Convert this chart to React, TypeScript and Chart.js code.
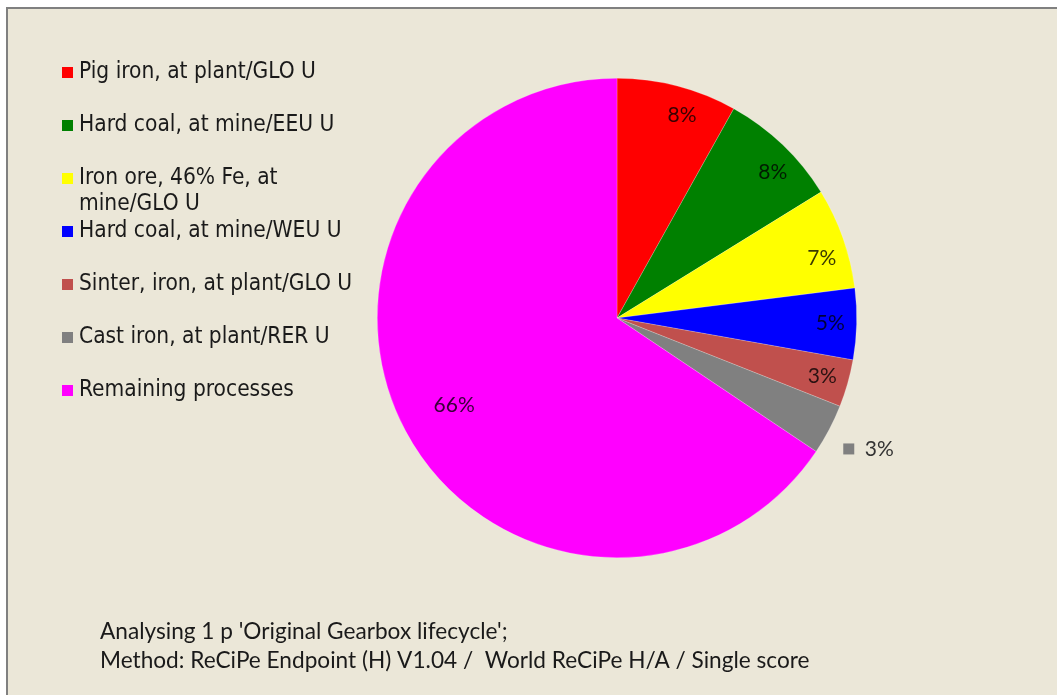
import React, { useEffect, useRef } from "react";
import { Chart, registerables } from "chart.js";

Chart.register(...registerables);

const categories: string[] = [
  "Pig iron, at plant/GLO U",
  "Hard coal, at mine/EEU U",
  "Iron ore, 46% Fe, at mine/GLO U",
  "Hard coal, at mine/WEU U",
  "Sinter, iron, at plant/GLO U",
  "Cast iron, at plant/RER U",
  "Remaining processes",
];
const values: number[] = [8.1, 8.1, 6.8, 4.8, 3.2, 3.4, 65.6];
const colors: string[] = ["#FF0000", "#008000", "#FFFF00", "#0000FF", "#C0504D", "#808080", "#FF00FF"];
const captionLines: string[] = [
  "Analysing 1 p 'Original Gearbox lifecycle';",
  "Method: ReCiPe Endpoint (H) V1.04 /  World ReCiPe H/A / Single score",
];
const outsideLabelIndex = 5;

const W = 1057;
const H = 695;
const BG = "#EBE7D8";

function fitFont(ctx: CanvasRenderingContext2D, text: string, family: string, target: number, base = 20) {
  ctx.font = `${base}px ${family}`;
  const w = ctx.measureText(text).width;
  return (base * target) / w;
}

const framePlugin = {
  id: "frame",
  beforeDraw(chart: any) {
    const ctx: CanvasRenderingContext2D = chart.ctx;
    ctx.save();
    ctx.fillStyle = "#FFFFFF";
    ctx.fillRect(0, 0, W, H);
    ctx.fillStyle = BG;
    ctx.fillRect(6, 7, W, H);
    ctx.strokeStyle = "#808080";
    ctx.lineWidth = 2;
    ctx.beginPath();
    ctx.moveTo(7, H);
    ctx.lineTo(7, 8);
    ctx.lineTo(W, 8);
    ctx.stroke();
    ctx.restore();
  },
};

const legendPlugin = {
  id: "customLegend",
  afterDraw(chart: any) {
    const ctx: CanvasRenderingContext2D = chart.ctx;
    ctx.save();
    const fam = '"DejaVu Sans Condensed", "Liberation Sans", Arial, sans-serif';
    const size = fitFont(ctx, categories[0], fam, 237);
    ctx.font = `${size}px ${fam}`;
    ctx.textBaseline = "middle";
    ctx.textAlign = "left";
    const maxW = 285;
    categories.forEach((label, i) => {
      const y0 = 72 + 53 * i;
      ctx.fillStyle = colors[i];
      ctx.fillRect(62, y0 - 5, 11, 11);
      const words = label.split(" ");
      const lines: string[] = [];
      let cur = "";
      words.forEach((w) => {
        const test = cur ? cur + " " + w : w;
        if (ctx.measureText(test).width > maxW && cur) {
          lines.push(cur);
          cur = w;
        } else cur = test;
      });
      if (cur) lines.push(cur);
      ctx.fillStyle = "#1A1A1A";
      lines.forEach((ln, j) => ctx.fillText(ln, 79, y0 + j * 26));
    });

    const cfam = 'Lato, "Open Sans", sans-serif';
    const csize = fitFont(ctx, captionLines[1], cfam, 710);
    ctx.font = `${csize}px ${cfam}`;
    ctx.fillStyle = "#1A1A1A";
    captionLines.forEach((ln, j) => ctx.fillText(ln, 100, 632 + j * 29));
    ctx.restore();
  },
};

const labelPlugin = {
  id: "sliceLabels",
  afterDatasetsDraw(chart: any) {
    const ctx: CanvasRenderingContext2D = chart.ctx;
    const meta = chart.getDatasetMeta(0);
    const data: number[] = chart.data.datasets[0].data;
    const total = data.reduce((a, b) => a + b, 0);
    ctx.save();
    ctx.font = '21px Lato, "Open Sans", sans-serif';
    ctx.textAlign = "center";
    ctx.textBaseline = "middle";
    meta.data.forEach((arc: any, i: number) => {
      const p = arc.getProps(["x", "y", "startAngle", "endAngle", "outerRadius"], true);
      const mid = (p.startAngle + p.endAngle) / 2;
      const txt = Math.round((data[i] / total) * 100) + "%";
      if (i === outsideLabelIndex) {
        const r = p.outerRadius * 1.17;
        const cx = p.x + Math.cos(mid) * r;
        const cy = p.y + Math.sin(mid) * r;
        ctx.fillStyle = colors[i];
        ctx.fillRect(cx - 22, cy - 5, 11, 11);
        ctx.fillStyle = "#333333";
        ctx.fillText(txt, cx + 14, cy + 1);
        return;
      }
      const big = data[i] / total > 0.5;
      const r = p.outerRadius * (big ? 0.77 : 0.89);
      // labels in the upper-right quadrant sit slightly clockwise of the mid-angle
      const ang = !big && mid < -0.2 ? mid + 0.055 : mid;
      const cx = p.x + Math.cos(ang) * r;
      const cy = p.y + Math.sin(ang) * r;
      ctx.fillStyle = "rgba(0,0,0,0.78)";
      ctx.fillText(txt, cx, cy);
    });
    ctx.restore();
  },
};

export default function App() {
  const ref = useRef<HTMLCanvasElement | null>(null);
  useEffect(() => {
    document.body.style.margin = "0";
    const canvas = ref.current;
    if (!canvas) return;
    const chart = new Chart(canvas, {
      type: "pie",
      data: {
        labels: categories,
        datasets: [
          {
            data: values,
            backgroundColor: colors,
            borderWidth: 0.6,
            borderColor: "rgba(255,255,255,0.35)",
          },
        ],
      },
      options: {
        responsive: false,
        animation: false,
        layout: { padding: { left: 377, right: 200, top: 78, bottom: 137 } },
        plugins: {
          legend: { display: false },
          tooltip: { enabled: false },
        },
      },
      plugins: [framePlugin, legendPlugin, labelPlugin],
    });
    return () => chart.destroy();
  }, []);
  return (
    <div style={{ width: W, height: H, overflow: "hidden" }}>
      <canvas ref={ref} width={W} height={H} style={{ display: "block", width: W, height: H }} />
    </div>
  );
}
